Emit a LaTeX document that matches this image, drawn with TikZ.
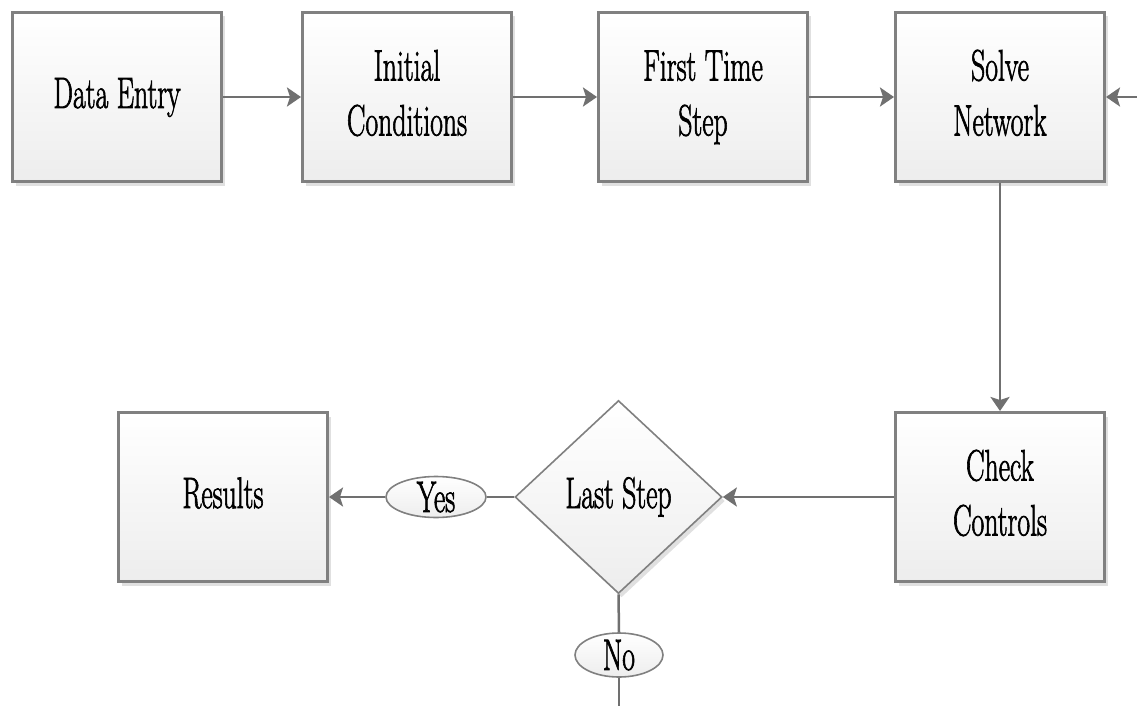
\documentclass[tikz,border=0pt]{standalone}
\usetikzlibrary{shapes.geometric,arrows.meta,shadows}

\definecolor{edgegray}{RGB}{128,128,128}
\definecolor{linkgray}{RGB}{112,112,112}

% slightly heavier glyphs: fill and stroke the letters
\newcommand{\inkon}{\special{pdf:literal direct 2 Tr 0.9 w}}
\newcommand{\inkoff}{\special{pdf:literal direct 0 Tr}}
% condensed serif lettering, one or more centred lines
\newcommand{\squeeze}[1]{\scalebox{0.63}[1]{\inkon\begin{tabular}{@{}c@{}}#1\end{tabular}\inkoff}}
% vertically centre a word inside a small outline without growing it
\newcommand{\ctext}[1]{\smash{\raisebox{-0.34em}{\scalebox{0.63}[1]{\inkon#1\inkoff}}}}

\tikzset{
  every node/.style={font=\fontsize{44}{55}\selectfont, text=black},
  softshade/.style={top color=white, bottom color=black!7},
  boxshadow/.style={drop shadow={shadow xshift=3pt, shadow yshift=-4pt, opacity=0.12, fill=black}},
  stepbox/.style={draw=edgegray, line width=3pt, softshade, boxshadow,
    minimum width=209pt, minimum height=169pt, inner sep=0pt},
  decision/.style={shape=diamond, draw=edgegray, line width=1.6pt, softshade, boxshadow,
    minimum width=207pt, minimum height=193pt, inner sep=0pt},
  tag/.style={shape=ellipse, draw=edgegray, line width=1.6pt, softshade, inner sep=0pt},
  link/.style={draw=linkgray, line width=2.5pt},
  arr/.style={link, -{Stealth[length=14pt, width=19pt, inset=3pt]}}
}

\begin{document}
\begin{tikzpicture}[x=1pt, y=-1pt]
  \useasboundingbox (0,0) rectangle (1137,706);

  % top row
  \node[stepbox] (entry) at (117,97) {\squeeze{Data Entry}};
  \node[stepbox] (init)  at (407,97) {\squeeze{Initial\\Conditions}};
  \node[stepbox] (first) at (703,97) {\squeeze{First Time\\Step}};
  \node[stepbox] (solve) at (1000,97) {\squeeze{Solve\\Network}};

  % bottom row
  \node[stepbox] (check)   at (1000,497) {\squeeze{Check\\Controls}};
  \node[decision] (last)   at (618.5,497) {\raisebox{-3pt}{\squeeze{Last Step}}};
  \node[tag, minimum width=100pt, minimum height=41pt] (yes) at (436,497) {\ctext{Yes}};
  \node[tag, minimum width=88pt, minimum height=44pt] (no) at (619,655) {\ctext{No}};
  \node[stepbox] (results) at (223,497) {\squeeze{Results}};

  % loose ends of the time-step loop
  \coordinate (loopin)  at (1137,97);
  \coordinate (loopout) at (619,706);

  % connectors
  \draw[arr] (entry) -- (init);
  \draw[arr] (init) -- (first);
  \draw[arr] (first) -- (solve);
  \draw[arr] (loopin) -- (solve.east);
  \draw[arr] (solve) -- (check);
  \draw[arr] (check) -- (last.east);
  \draw[link] (last.west) -- (yes.east);
  \draw[arr] (yes.west) -- (results.east);
  \draw[link] (last.south) -- (no.north);
  \draw[link] (no.south) -- (loopout);
\end{tikzpicture}
\end{document}
